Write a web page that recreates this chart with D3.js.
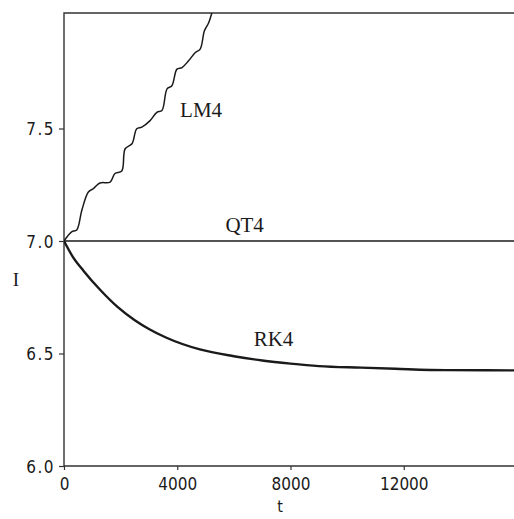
<!DOCTYPE html>
<html>
<head>
<meta charset="utf-8">
<script src="https://cdn.jsdelivr.net/npm/d3@7"></script>
<style>
  body { margin: 0; background: #fff; }
  svg { display: block; }
</style>
</head>
<body>
<svg width="514" height="519"></svg>
<script>
// Data
const lm4_t = [0, 270, 450, 630, 860, 1040, 1270, 1630, 1800, 2040, 2160, 2400, 2570, 2750, 3040, 3280, 3460, 3640, 3810, 3990, 4170, 4400, 4640, 4810, 4960, 5110, 5300];
const lm4_I = [7.0, 7.041, 7.049, 7.137, 7.218, 7.233, 7.258, 7.262, 7.300, 7.311, 7.410, 7.432, 7.499, 7.506, 7.535, 7.572, 7.580, 7.676, 7.690, 7.764, 7.771, 7.801, 7.838, 7.853, 7.934, 7.970, 8.05];
const rk4_t = [0, 300, 700, 1300, 1900, 2500, 3000, 3600, 4800, 6000, 7000, 8000, 9000, 10500, 11700, 13500, 16000];
const rk4_I = [7.0, 6.932, 6.866, 6.780, 6.706, 6.648, 6.609, 6.571, 6.518, 6.488, 6.469, 6.455, 6.444, 6.437, 6.432, 6.426, 6.425];
const qt4_t = [0, 16000];
const qt4_I = [7.0, 7.0];
const x_ticks = [0, 4000, 8000, 12000];
const y_ticks = [6.0, 6.5, 7.0, 7.5];
const series_labels = [
  { name: 'LM4', t: 4100, I: 7.55 },
  { name: 'QT4', t: 5700, I: 7.04 },
  { name: 'RK4', t: 6700, I: 6.535 }
];

const svg = d3.select('svg');
const width = +svg.attr('width');
const height = +svg.attr('height');
const margin = { top: 13, right: 0, bottom: 53, left: 64 };

const x = d3.scaleLinear().domain([0, 16000]).range([margin.left, 517]);
const y = d3.scaleLinear().domain([6.0, 8.0]).range([height - margin.bottom, 16]);

const ink = '#1a1a1a';
const tick_font = '"DejaVu Sans Condensed", "DejaVu Sans", sans-serif';
const label_font = '"Liberation Serif", "DejaVu Serif", serif';

svg.append('defs').append('clipPath').attr('id', 'plot')
  .append('rect')
  .attr('x', margin.left).attr('y', margin.top)
  .attr('width', width - margin.left).attr('height', height - margin.bottom - margin.top);

// Frame: top, left, bottom
svg.append('path')
  .attr('d', `M${width},${margin.top}H${margin.left}V${height - margin.bottom}H${width}`)
  .attr('fill', 'none')
  .attr('stroke', '#333')
  .attr('stroke-width', 1.4);

// Axes
const x_axis = svg.append('g')
  .attr('transform', `translate(0,${height - margin.bottom})`)
  .call(d3.axisBottom(x).tickValues(x_ticks).tickSize(4).tickPadding(8).tickFormat(d3.format('d')));
x_axis.select('.domain').remove();
x_axis.selectAll('line').attr('stroke', '#333').attr('stroke-width', 1.2);
x_axis.selectAll('text')
  .attr('font-family', tick_font)
  .attr('font-size', 17)
  .attr('fill', ink);

const y_axis = svg.append('g')
  .attr('transform', `translate(${margin.left},0)`)
  .call(d3.axisLeft(y).tickValues(y_ticks).tickSize(5).tickPadding(4).tickFormat(d3.format('.1f')));
y_axis.select('.domain').remove();
y_axis.selectAll('line').attr('stroke', '#333').attr('stroke-width', 1.2);
y_axis.selectAll('text')
  .attr('font-family', tick_font)
  .attr('font-size', 17)
  .attr('letter-spacing', 1.5)
  .attr('dy', '0.36em')
  .attr('fill', ink);

// Axis titles
svg.append('text')
  .attr('x', 16).attr('y', 286)
  .attr('text-anchor', 'middle')
  .attr('font-family', label_font)
  .attr('font-size', 19)
  .attr('fill', ink)
  .text('I');
svg.append('text')
  .attr('x', 280).attr('y', 512)
  .attr('text-anchor', 'middle')
  .attr('font-family', tick_font)
  .attr('font-size', 16)
  .attr('fill', ink)
  .text('t');

// Curves
const plot = svg.append('g').attr('clip-path', 'url(#plot)');
const line = d3.line().x(d => x(d[0])).y(d => y(d[1])).curve(d3.curveMonotoneX);
const wavy = d3.line().x(d => x(d[0])).y(d => y(d[1])).curve(d3.curveCatmullRom.alpha(0.5));

plot.append('path')
  .datum(d3.zip(qt4_t, qt4_I))
  .attr('d', line)
  .attr('fill', 'none')
  .attr('stroke', ink)
  .attr('stroke-width', 1.5);

plot.append('path')
  .datum(d3.zip(lm4_t, lm4_I))
  .attr('d', wavy)
  .attr('fill', 'none')
  .attr('stroke', ink)
  .attr('stroke-width', 1.5);

plot.append('path')
  .datum(d3.zip(rk4_t, rk4_I))
  .attr('d', line)
  .attr('fill', 'none')
  .attr('stroke', ink)
  .attr('stroke-width', 2.4);

// Series labels
svg.selectAll('.series-label')
  .data(series_labels)
  .enter()
  .append('text')
  .attr('class', 'series-label')
  .attr('x', d => x(d.t))
  .attr('y', d => y(d.I))
  .attr('font-family', label_font)
  .attr('font-size', 21)
  .attr('fill', ink)
  .text(d => d.name);
</script>
</body>
</html>
